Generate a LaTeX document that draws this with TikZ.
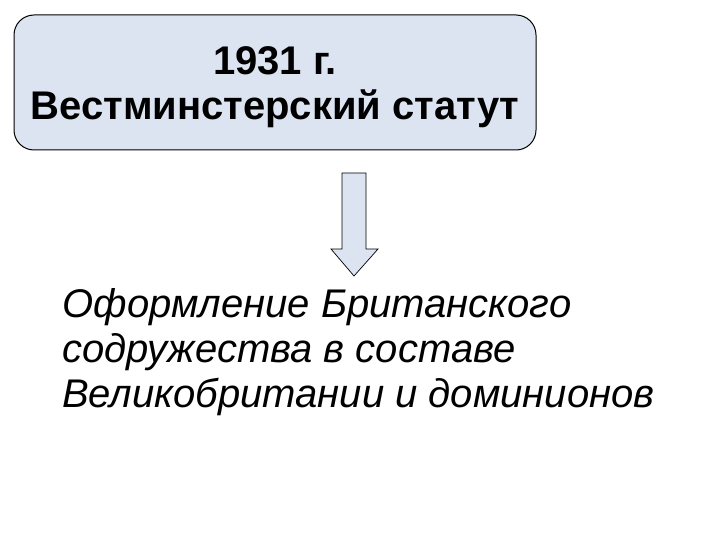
\documentclass[tikz,border=0pt]{standalone}
\usepackage{fontspec}
\setmainfont{Liberation Sans}
\definecolor{boxfill}{RGB}{220,228,242}
\begin{document}
\begin{tikzpicture}[x=1pt,y=-1pt,
  titlebox/.style={draw=black, line width=1pt, fill=boxfill, rounded corners=20pt},
  blockarrow/.style={draw=black, line width=0.7pt, fill=boxfill, line join=miter},
  bodytext/.style={inner sep=0pt, align=left, font=\fontsize{40}{45}\selectfont\itshape}]
\useasboundingbox (0,0) rectangle (720,540);
\draw[titlebox] (14,15) rectangle (536,150);
\node[inner sep=0pt, align=center, font=\fontsize{40}{45}\selectfont\bfseries, anchor=base] (title) at (275,120) {1931 г.\\Вестминстерский статут};
\draw[blockarrow] (342,173) -- (366,173) -- (366,249) -- (378,249) -- (354,276) -- (331,249) -- (342,249) -- cycle;
\node[bodytext, anchor=base west] (body) at (62,407) {Оформление Британского\\содружества в составе\\Великобритании и доминионов};
\end{tikzpicture}
\end{document}
